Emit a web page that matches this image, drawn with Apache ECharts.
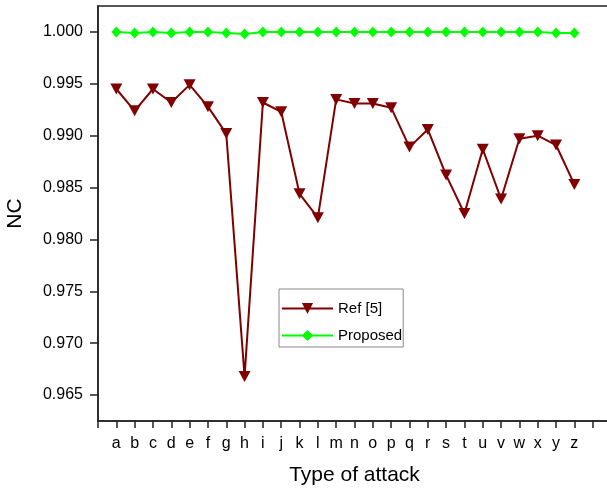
<!DOCTYPE html>
<html>
<head>
<meta charset="utf-8">
<script src="https://cdn.jsdelivr.net/npm/echarts@6/dist/echarts.min.js"></script>
<style>html,body{margin:0;padding:0;background:#fff}#c{width:607px;height:488px}</style>
</head>
<body>
<div id="c"></div>
<script>
const categories = ['a','b','c','d','e','f','g','h','i','j','k','l','m','n','o','p','q','r','s','t','u','v','w','x','y','z'];
const refValues = [0.9945,0.9924,0.9945,0.9932,0.9949,0.9928,0.9902,0.9668,0.9932,0.9923,0.9844,0.9821,0.9935,0.9931,0.9931,0.9927,0.9889,0.9906,0.9862,0.9825,0.9887,0.9839,0.9897,0.9900,0.9891,0.9853];
const proposedValues = [1.0000,0.9999,1.0000,0.9999,1.0000,1.0000,0.9999,0.9998,1.0000,1.0000,1.0000,1.0000,1.0000,1.0000,1.0000,1.0000,1.0000,1.0000,1.0000,1.0000,1.0000,1.0000,1.0000,1.0000,0.9999,0.9999];
const seriesNames = ['Ref [5]','Proposed'];
const xTitle = 'Type of attack';
const yTitle = 'NC';

const font = 'Liberation Sans, Arial, sans-serif';
const chart = echarts.init(document.getElementById('c'));
const toPairs = arr => arr.map((v, i) => [i + 1, v]);
chart.setOption({
  animation: false,
  backgroundColor: '#fff',
  grid: { left: 98, top: 6, width: 513, height: 415, show: true, borderColor: '#222', borderWidth: 1.5,
    containLabel: false, outerBoundsMode: 'none' },
  xAxis: {
    type: 'value', min: 0, max: 28, interval: 1,
    name: xTitle, nameLocation: 'middle', nameGap: 44,
    nameTextStyle: { fontFamily: font, fontSize: 21, color: '#000' },
    axisLine: { show: true, lineStyle: { color: '#222', width: 1.5 } },
    axisTick: { show: true, inside: false, length: 7, lineStyle: { color: '#222', width: 1.5 } },
    axisLabel: { fontFamily: font, fontSize: 16, color: '#000', margin: 15,
      showMinLabel: true, showMaxLabel: true,
      formatter: v => categories[v - 1] || '' },
    splitLine: { show: false }
  },
  yAxis: {
    type: 'value', min: 0.9625, max: 1.0025, splitNumber: 8,
    name: yTitle, nameLocation: 'middle', nameGap: 72,
    nameTextStyle: { fontFamily: font, fontSize: 21, color: '#000' },
    axisLine: { show: true, lineStyle: { color: '#222', width: 1.5 } },
    axisTick: { show: true, inside: false, length: 8, lineStyle: { color: '#222', width: 1.5 } },
    axisLabel: { fontFamily: font, fontSize: 16, color: '#000', margin: 15,
      showMinLabel: false, showMaxLabel: false,
      formatter: v => v.toFixed(3) },
    splitLine: { show: false }
  },
  legend: {
    orient: 'vertical', left: 279, top: 289,
    padding: [12, 1, 4, 2], itemGap: 12, itemWidth: 51, itemHeight: 14,
    borderColor: '#888', borderWidth: 1, backgroundColor: '#fff',
    textStyle: { fontFamily: font, fontSize: 15, color: '#000' },
    data: seriesNames
  },
  series: [
    { name: seriesNames[0], type: 'line', data: toPairs(refValues),
      symbol: 'triangle', symbolRotate: 180, symbolSize: [12, 11],
      lineStyle: { color: '#800000', width: 2 }, itemStyle: { color: '#800000' } },
    { name: seriesNames[1], type: 'line', data: toPairs(proposedValues),
      symbol: 'diamond', symbolSize: [10, 11],
      lineStyle: { color: '#00ff00', width: 2 }, itemStyle: { color: '#00ff00' } }
  ]
});
</script>
</body>
</html>
